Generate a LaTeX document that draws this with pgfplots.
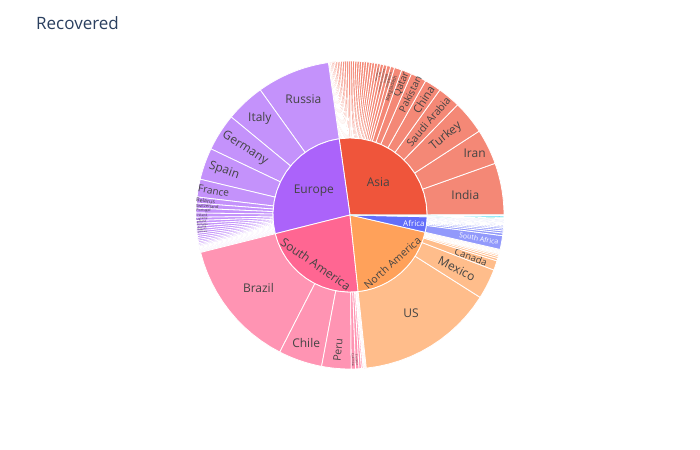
\documentclass[border=0pt]{standalone}
\usepackage{fontspec}
\setmainfont{Open Sans}
\usepackage{pgfplots}
\pgfplotsset{compat=1.18}

\definecolor{cAf}{HTML}{636EFA}
\definecolor{cAs}{HTML}{EF553B}
\definecolor{cOc}{HTML}{00CC96}
\definecolor{cEu}{HTML}{AB63FA}
\definecolor{cNA}{HTML}{FFA15A}
\definecolor{cOt}{HTML}{19D3F3}
\definecolor{cSA}{HTML}{FF6692}
\definecolor{txt}{HTML}{444444}
\definecolor{ttl}{HTML}{2A3F5F}

\newcommand\Rin{77}
\newcommand\Rout{154}
\gdef\cur{0}
\gdef\cstart{0}

% annular sector from angle #1 to #2, radii #3..#4, fill #5
\newcommand\sbwedge[5]{%
  \gdef\pts{}%
  \foreach \k in {0,1,...,12}{%
    \pgfmathsetmacro\ang{#1+(#2-#1)*\k/12}%
    \pgfmathsetmacro\px{#4*cos(\ang)}%
    \pgfmathsetmacro\py{#4*sin(\ang)}%
    \xdef\pts{\pts(\px,\py)}}%
  \ifdim #3pt=0pt
    \xdef\pts{\pts(0,0)}%
  \else
    \foreach \k in {12,11,...,0}{%
      \pgfmathsetmacro\ang{#1+(#2-#1)*\k/12}%
      \pgfmathsetmacro\px{#3*cos(\ang)}%
      \pgfmathsetmacro\py{#3*sin(\ang)}%
      \xdef\pts{\pts(\px,\py)}}%
  \fi
  \pgfmathsetmacro\px{#4*cos(#1)}\pgfmathsetmacro\py{#4*sin(#1)}%
  \xdef\pts{\pts(\px,\py)}%
  \edef\tmp{\noexpand\addplot[mark=none,fill=#5,draw=white,line width=0.8bp,line join=round,line cap=round] coordinates {\pts};}%
  \tmp}

% label: mid angle, radius, mode (h/r/t), size, colour, text
\newcommand\sblabel[6]{%
  \pgfmathsetmacro\lx{#2*cos(#1)}\pgfmathsetmacro\ly{#2*sin(#1)}%
  \ifx#3r\pgfmathsetmacro\rot{ifthenelse(and(#1>90,#1<270),#1-180,#1)}%
  \else\ifx#3t\pgfmathsetmacro\rot{ifthenelse(and(#1>180,#1<360),#1-270,#1-90)}%
  \else\def\rot{0}\fi\fi
  \edef\tmp{\noexpand\node[rotate=\rot,inner sep=0pt,text=#5,font=\noexpand\fontsize{#4bp}{#4bp}\noexpand\selectfont] at (axis cs:\lx,\ly) {\unexpanded{#6}};}%
  \tmp}

% unlabelled leaf: value, colour
\newcommand\sbs[2]{%
  \pgfmathsetmacro\sa{\cur}\pgfmathsetmacro\sbb{\cur+#1}%
  \sbwedge{\sa}{\sbb}{\Rin}{\Rout}{#2!70!white}%
  \xdef\cur{\sbb}}
% labelled leaf: value, colour, mode, radius, size, text colour, text
\newcommand\sbl[7]{%
  \pgfmathsetmacro\sa{\cur}\pgfmathsetmacro\sbb{\cur+#1}\pgfmathsetmacro\smid{\cur+#1/2}%
  \sbwedge{\sa}{\sbb}{\Rin}{\Rout}{#2!70!white}%
  \sblabel{\smid}{#4}{#3}{#5}{#6}{#7}%
  \xdef\cur{\sbb}}
\newcommand\sbmany[2]{\pgfplotsforeachungrouped \v in {#2}{\sbs{\v}{#1}}}
\newcommand\sbcbegin{\xdef\cstart{\cur}}
% continent: colour, mode, radius, size, text colour, text
\newcommand\sbcend[6]{%
  \pgfmathsetmacro\cmid{(\cstart+\cur)/2}%
  \sbwedge{\cstart}{\cur}{0}{\Rin}{#1}%
  \sblabel{\cmid}{#3}{#2}{#4}{#5}{#6}}
\newcommand\sbcendx[1]{\sbwedge{\cstart}{\cur}{0}{\Rin}{#1}}

\begin{document}
\begin{tikzpicture}
\useasboundingbox (0,0) rectangle (700bp,450bp);
\begin{axis}[hide axis, scale only axis, width=700bp, height=450bp,
  xmin=-350, xmax=350, ymin=-235, ymax=215, enlargelimits=false, clip=false]

% ---- Asia ----
\sbcbegin
\sbl{19.6}{cAs}{h}{117}{12}{txt}{India}
\sbl{13.4}{cAs}{h}{139}{12}{txt}{Iran}
\sbl{12.7}{cAs}{r}{124}{12}{txt}{Turkey}
\sbl{8.6}{cAs}{r}{122}{10.5}{txt}{Saudi Arabia}
\sbl{6.3}{cAs}{r}{137}{11.2}{txt}{China}
\sbl{5.9}{cAs}{r}{135}{9.8}{txt}{Pakistan}
\sbl{3.9}{cAs}{r}{140}{9.8}{txt}{Qatar}
\sbl{2.8}{cAs}{r}{133}{5}{txt}{Bangladesh}
\sbl{1.5}{cAs}{r}{140}{3.4}{txt}{Singapore}
\sbl{1.4}{cAs}{r}{141}{3.2}{txt}{Kuwait}
\sbl{1.3}{cAs}{r}{138}{2.4}{txt}{United Arab Emirates}
\sbl{1.2}{cAs}{r}{143}{2.8}{txt}{Iraq}
\sbl{1.1}{cAs}{r}{142}{2.4}{txt}{Kazakhstan}
\sbmany{cAs}{1.05,1.02,1.0,0.98,0.95,0.93,0.9,0.88,0.85,0.83,0.8,0.78,0.75,0.73,0.7,0.68,0.65,0.63,0.6,0.55,0.53,0.5,0.48,0.3,0.2,0.1}
\sbcend{cAs}{h}{43.3}{12}{txt}{Asia}

% ---- Europe ----
\sbcbegin
\sbl{27.6}{cEu}{h}{125}{12}{txt}{Russia}
\sbl{14.8}{cEu}{h}{132}{12}{txt}{Italy}
\sbl{14.1}{cEu}{r}{124.5}{12}{txt}{Germany}
\sbl{12.0}{cEu}{r}{133.5}{12}{txt}{Spain}
\sbl{6.7}{cEu}{r}{138.5}{10}{txt}{France}
\sbl{2.3}{cEu}{r}{145}{5.3}{txt}{Belarus}
\sbl{1.9}{cEu}{r}{143}{4.2}{txt}{Switzerland}
\sbl{1.8}{cEu}{r}{146.5}{3.6}{txt}{Portugal}
\sbl{1.6}{cEu}{r}{148}{3.3}{txt}{Ireland}
\sbl{1.2}{cEu}{r}{148}{3}{txt}{Ukraine}
\sbl{1.1}{cEu}{r}{148.5}{2.8}{txt}{Poland}
\sbl{1.0}{cEu}{r}{148}{2.6}{txt}{Romania}
\sbl{0.95}{cEu}{r}{148.5}{2.5}{txt}{Austria}
\sbl{0.9}{cEu}{r}{148.5}{2.4}{txt}{Belgium}
\sbl{0.85}{cEu}{r}{148.5}{2.2}{txt}{Denmark}
\sbmany{cEu}{0.8,0.75,0.7,0.65,0.6,0.55,0.5,0.45,0.4,0.35,0.27,0.24,0.21,0.18,0.15,0.12,0.1,0.08,0.06,0.04}
\sbcend{cEu}{h}{43.6}{12}{txt}{Europe}

% ---- South America ----
\sbcbegin
\sbl{48.8}{cSA}{h}{117}{12}{txt}{Brazil}
\sbl{16.5}{cSA}{h}{135.5}{12}{txt}{Chile}
\sbl{11.1}{cSA}{r}{135.5}{10.5}{txt}{Peru}
\sbl{1.6}{cSA}{r}{145}{3}{txt}{Colombia}
\sbl{1.3}{cSA}{r}{145}{2.8}{txt}{Ecuador}
\sbmany{cSA}{0.9,0.6,0.4,0.3,0.2,0.15,0.1,0.05}
\sbcend{cSA}{t}{59.7}{12}{txt}{South America}

% ---- North America ----
\sbcbegin
\sbl{51.6}{cNA}{h}{115.5}{12}{txt}{US}
\sbl{11.4}{cNA}{r}{119.5}{12}{txt}{Mexico}
\sbl{3.6}{cNA}{r}{128}{9.5}{txt}{Canada}
\sbmany{cNA}{0.9,0.75,0.6,0.5,0.4,0.35,0.3,0.25,0.15,0.1,0.06,0.04}
\sbcend{cNA}{t}{63.8}{10.5}{txt}{North America}

% ---- Africa ----
\sbcbegin
\sbl{5.2}{cAf}{r}{131}{7}{white}{South Africa}
\sbmany{cAf}{1.0,0.8,0.7,0.6,0.5,0.45,0.4,0.35,0.3,0.25,0.22,0.19,0.16,0.13,0.1,0.08,0.06,0.05,0.04,0.02}
\sbcend{cAf}{h}{64.4}{8}{white}{Africa}

% ---- tiny groups ----
\sbcbegin
\sbs{0.5}{cOc}
\sbcendx{cOc}
\sbcbegin
\sbmany{cOt}{0.6,0.3}
\sbcendx{cOt}

\node[anchor=base west,inner sep=0pt,text=ttl,font=\fontsize{17bp}{17bp}\selectfont] at (axis cs:-314,185) {Recovered};
\end{axis}
\end{tikzpicture}
\end{document}
